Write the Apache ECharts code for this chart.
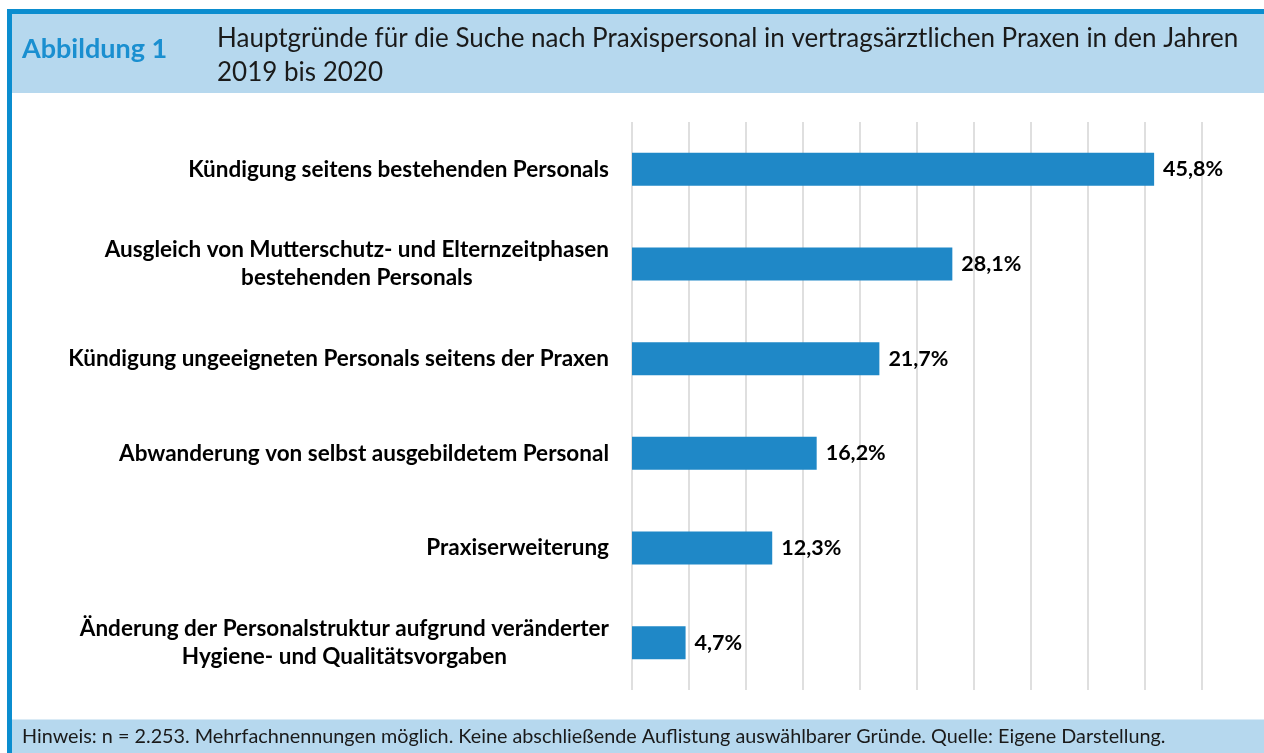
<!DOCTYPE html>
<html>
<head>
<meta charset="utf-8">
<script src="https://cdn.jsdelivr.net/npm/echarts@6/dist/echarts.min.js"></script>
<style>
html,body{margin:0;padding:0;background:#fff;}
#chart{width:1264px;height:753px;}
</style>
</head>
<body>
<div id="chart"></div>
<script>
const categories = [
  "Kündigung seitens bestehenden Personals",
  "Ausgleich von Mutterschutz- und Elternzeitphasen\nbestehenden Personals",
  "Kündigung ungeeigneten Personals seitens der Praxen",
  "Abwanderung von selbst ausgebildetem Personal",
  "Praxiserweiterung",
  "Änderung der Personalstruktur aufgrund veränderter\nHygiene- und Qualitätsvorgaben"
];
const values = [45.8, 28.1, 21.7, 16.2, 12.3, 4.7];
const figureLabel = "Abbildung 1";
const titleText = "Hauptgründe für die Suche nach Praxispersonal in vertragsärztlichen Praxen in den Jahren\n2019 bis 2020";
const noteText = "Hinweis: n = 2.253. Mehrfachnennungen möglich. Keine abschließende Auflistung auswählbarer Gründe. Quelle: Eigene Darstellung.";

const FONT = "Lato, 'Open Sans', sans-serif";
const chart = echarts.init(document.getElementById('chart'), null, {renderer: 'canvas'});

chart.setOption({
  animation: false,
  backgroundColor: '#ffffff',
  textStyle: {fontFamily: FONT},
  graphic: [
    {type: 'rect', z: 0, shape: {x: 12, y: 14, width: 1252, height: 79}, style: {fill: '#b6d8ee'}},
    {type: 'rect', z: 0, shape: {x: 12, y: 719.5, width: 1252, height: 34}, style: {fill: '#b6d8ee'}},
    {type: 'rect', z: 1, shape: {x: 7, y: 9, width: 1257, height: 5}, style: {fill: '#0b8dcf'}},
    {type: 'rect', z: 1, shape: {x: 7, y: 9, width: 5, height: 744}, style: {fill: '#0b8dcf'}},
    {type: 'text', z: 2, left: 22, top: 36, style: {text: figureLabel, fontFamily: FONT, fontWeight: 'bold', fontSize: 27, fill: '#1a8fd0'}},
    {type: 'text', z: 2, left: 217, top: 22, style: {text: titleText, fontFamily: FONT, fontSize: 26, lineHeight: 34, fill: '#1a1a1a'}},
    {type: 'text', z: 2, left: 22, top: 727, style: {text: noteText, fontFamily: FONT, fontSize: 19.8, fill: '#1a1a1a'}}
  ],
  grid: {left: 632, right: 62, top: 122, bottom: 63, containLabel: false},
  xAxis: {
    type: 'value', min: 0, max: 50, interval: 5,
    axisLine: {show: false}, axisTick: {show: false}, axisLabel: {show: false},
    splitLine: {show: true, lineStyle: {color: '#d4d4d4', width: 1.5}}
  },
  yAxis: {
    type: 'category', inverse: true, data: categories,
    axisLine: {show: false}, axisTick: {show: false},
    axisLabel: {
      margin: 23,
      color: '#000',
      fontFamily: FONT, fontWeight: 'bold', fontSize: 22.5,
      lineHeight: 28,
      formatter: v => v.split('\n').map(l => '{c|' + l + '}').join('\n'),
      rich: {c: {align: 'center', fontFamily: FONT, fontWeight: 'bold', fontSize: 22.5, lineHeight: 28, color: '#000'}}
    }
  },
  series: [{
    type: 'bar',
    data: values,
    barWidth: 33,
    itemStyle: {color: '#1f88c7'},
    label: {
      show: true, position: 'right', distance: 9,
      color: '#000', fontFamily: FONT, fontWeight: 'bold', fontSize: 21.5,
      formatter: p => p.value.toFixed(1).replace('.', ',') + '%'
    }
  }]
});
</script>
</body>
</html>
